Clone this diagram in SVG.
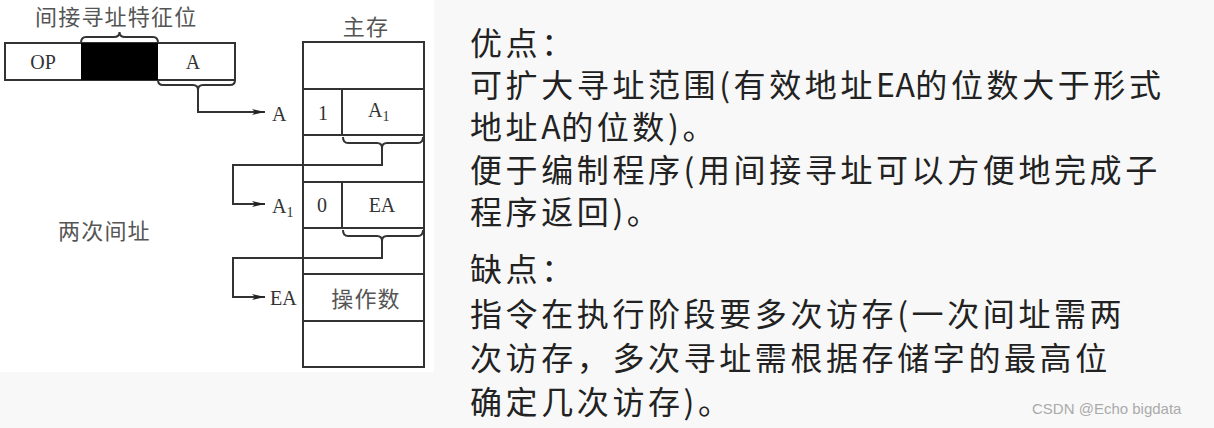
<svg xmlns="http://www.w3.org/2000/svg" width="1214" height="428" viewBox="0 0 1214 428">
<defs>
<style>
.ln{fill:none;stroke:#333;stroke-width:2}
.box{fill:#fff;stroke:#333;stroke-width:2}
.tm{font-family:"Liberation Serif",serif;font-size:20px;fill:#333}
.cn{font-family:"Noto Sans CJK SC",sans-serif;font-size:22px;fill:#555;letter-spacing:1.2px}
.bd{font-family:"Noto Sans CJK SC",sans-serif;font-size:32px;fill:#222;letter-spacing:3.6px}
.la{letter-spacing:0.5px}
.wm{font-family:"Liberation Sans",sans-serif;font-size:15px;fill:#aaa}
</style>
<marker id="ar" markerUnits="userSpaceOnUse" markerWidth="14" markerHeight="8" refX="13" refY="4" orient="auto">
<path d="M0,1 L13,4 L0,7 L3,4 Z" fill="#222"/>
</marker>
</defs>
<rect x="0" y="0" width="1214" height="428" fill="#f8f8f8"/>
<rect x="0" y="0" width="434" height="372" fill="#fff"/>

<g id="instruction">
<rect class="box" x="5" y="43" width="230" height="37"/>
<rect x="81" y="43" width="77" height="37" fill="#000"/>
<text class="tm" x="43" y="69" text-anchor="middle">OP</text>
<text class="tm" x="193" y="69" text-anchor="middle">A</text>
<path class="ln" d="M81,43 Q81,37 86,37 L114,37 Q119.5,37 119.5,32 Q119.5,37 125,37 L153,37 Q158,37 158,43"/>
<text class="cn" x="35" y="25">间接寻址特征位</text>
</g>

<g id="memory">
<text class="cn" x="366" y="35" text-anchor="middle">主存</text>
<rect class="box" x="303" y="42" width="121" height="325"/>
<path class="ln" d="M303,89 H424 M303,135 H424 M303,182 H424 M303,228 H424 M303,274 H424 M303,321 H424 M342,89 V135 M342,182 V228"/>
<text class="tm" x="323" y="120" text-anchor="middle">1</text>
<text class="tm" x="368" y="117">A<tspan font-size="14" dy="4">1</tspan></text>
<text class="tm" x="322" y="212" text-anchor="middle">0</text>
<text class="tm" x="382" y="212" text-anchor="middle">EA</text>
<text class="cn" x="366" y="307" text-anchor="middle">操作数</text>
</g>

<g id="labels">
<text class="tm" x="272" y="121">A</text>
<text class="tm" x="272" y="213">A<tspan font-size="14" dy="4">1</tspan></text>
<text class="tm" x="270" y="305">EA</text>
<text class="cn" x="58" y="239">两次间址</text>
</g>

<g id="connectors">
<path class="ln" d="M158,80 Q158,85 163,85 L193,85 Q198,85 198,90 Q198,85 203,85 L230,85 Q235,85 235,80"/>
<path class="ln" d="M198,90 V112 H265" marker-end="url(#ar)"/>
<path class="ln" d="M343,137 Q343,143 348,143 L377,143 Q382,143 382,148 Q382,143 387,143 L418,143 Q423,143 423,137"/>
<path class="ln" d="M382,148 V165 H233 V204 H265" marker-end="url(#ar)"/>
<path class="ln" d="M343,230 Q343,236 348,236 L377,236 Q382,236 382,241 Q382,236 387,236 L418,236 Q423,236 423,230"/>
<path class="ln" d="M382,241 V258 H233 V297 H265" marker-end="url(#ar)"/>
</g>

<g id="notes">
<text class="bd" x="470" y="55">优点：</text>
<text class="bd" x="470" y="97">可扩大寻址范围(有效地址<tspan class="la">EA</tspan>的位数大于形式</text>
<text class="bd" x="470" y="139">地址<tspan class="la">A</tspan>的位数)。</text>
<text class="bd" x="470" y="182">便于编制程序(用间接寻址可以方便地完成子</text>
<text class="bd" x="470" y="224">程序返回)。</text>
<text class="bd" x="470" y="281">缺点：</text>
<text class="bd" x="470" y="326">指令在执行阶段要多次访存(一次间址需两</text>
<text class="bd" x="470" y="370">次访存，多次寻址需根据存储字的最高位</text>
<text class="bd" x="470" y="414">确定几次访存)。</text>
</g>
<text class="wm" x="1032" y="414">CSDN @Echo bigdata</text>
</svg>
